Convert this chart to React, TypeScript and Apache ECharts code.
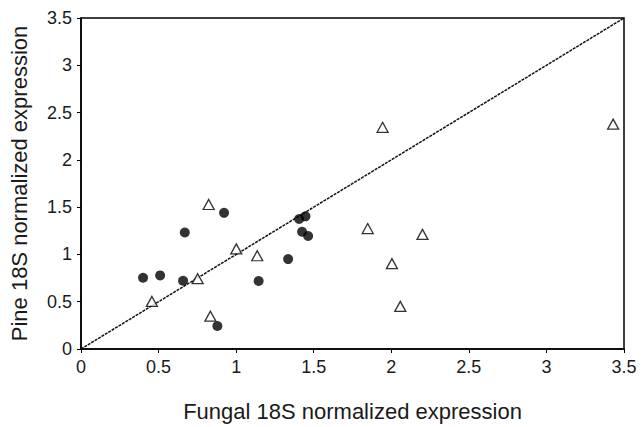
import React, { useEffect, useRef } from "react";
import * as echarts from "echarts";

const circleX = [0.40, 0.51, 0.658, 0.669, 0.922, 0.879, 1.145, 1.335, 1.406, 1.447, 1.425, 1.464];
const circleY = [0.753, 0.778, 0.722, 1.232, 1.44, 0.243, 0.719, 0.951, 1.375, 1.403, 1.24, 1.195];
const triX = [0.457, 0.752, 0.823, 0.834, 1.001, 1.136, 1.944, 1.848, 2.201, 2.004, 2.058, 3.43];
const triY = [0.503, 0.743, 1.528, 0.347, 1.059, 0.986, 2.344, 1.274, 1.212, 0.903, 0.451, 2.378];
const lineEnds = [0, 3.5];
const xTitle = "Fungal 18S normalized expression";
const yTitle = "Pine 18S normalized expression";

const FONT = "Liberation Sans, Arial, sans-serif";

export default function App() {
  const ref = useRef<HTMLDivElement>(null);
  useEffect(() => {
    if (!ref.current) return;
    const chart = echarts.init(ref.current, undefined, { renderer: "svg" });
    const axisCommon = {
      min: 0,
      max: 3.5,
      interval: 0.5,
      axisLine: { show: true, onZero: false, lineStyle: { color: "#000", width: 1.5 } },
      axisTick: { show: true, inside: false, length: 4, lineStyle: { color: "#000" } },
      splitLine: { show: false },
      axisLabel: { color: "#1a1a1a", fontSize: 18, fontFamily: FONT, margin: 9 },
      nameLocation: "middle" as const,
      nameTextStyle: { color: "#1a1a1a", fontSize: 22, fontFamily: FONT },
    };
    chart.setOption({
      animation: false,
      backgroundColor: "#fff",
      grid: { left: 80, top: 18, right: 17, bottom: 73, show: true, borderColor: "#000", borderWidth: 1.5, backgroundColor: "transparent" },
      xAxis: { ...axisCommon, type: "value", name: xTitle, nameGap: 51 },
      yAxis: { ...axisCommon, type: "value", name: yTitle, nameGap: 51 },
      series: [
        {
          type: "line",
          data: lineEnds.map((v) => [v, v]),
          symbol: "none",
          lineStyle: { color: "#111", width: 1.5, type: [3, 1] },
          z: 1,
        },
        {
          type: "scatter",
          data: circleX.map((x, i) => [x, circleY[i]]),
          symbol: "circle",
          symbolSize: 10,
          itemStyle: { color: "#000" },
          z: 3,
        },
        {
          type: "scatter",
          data: triX.map((x, i) => [x, triY[i]]),
          symbol: "triangle",
          symbolSize: [11, 10],
          itemStyle: { color: "#fff", borderColor: "#000", borderWidth: 1.3 },
          z: 3,
        },
      ],
    });
    return () => chart.dispose();
  }, []);
  return <div ref={ref} style={{ width: 641, height: 427, position: "absolute", left: 0, top: 0 }} />;
}
